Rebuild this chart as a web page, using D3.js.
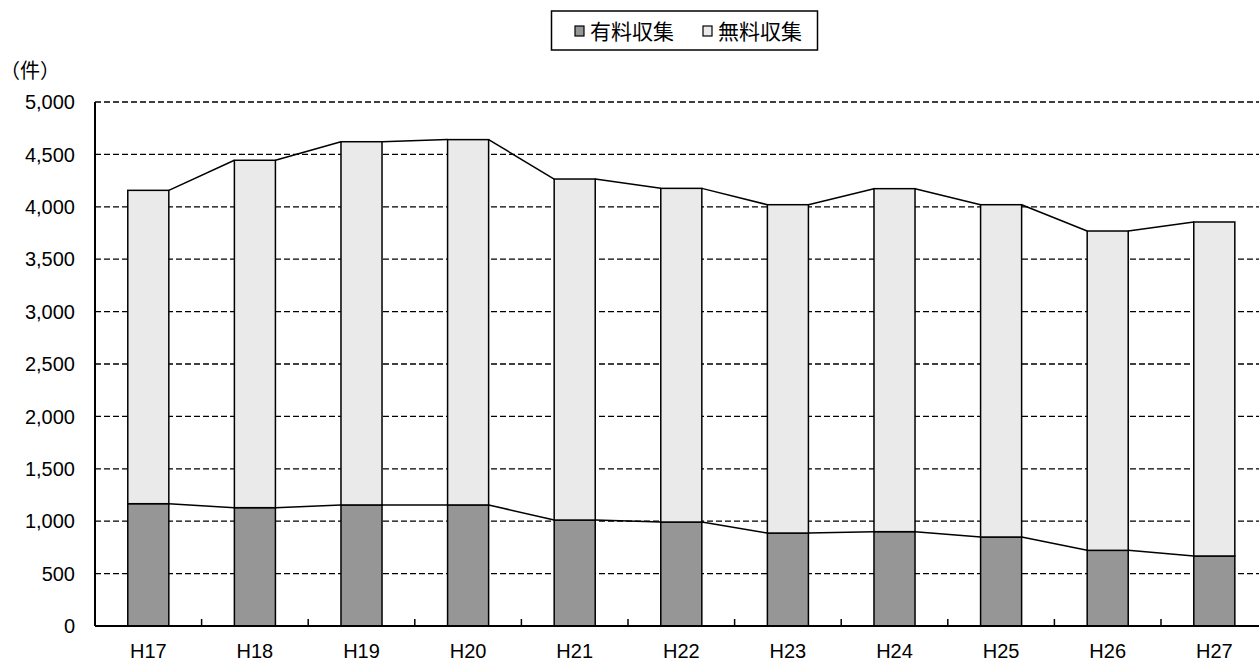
<!DOCTYPE html>
<html>
<head>
<meta charset="utf-8">
<script src="https://cdn.jsdelivr.net/npm/d3@7"></script>
<style>
  body { margin: 0; background: #fff; }
  text { font-family: "Liberation Sans", Arial, "Noto Sans CJK JP", sans-serif; }
  .jp { font-family: "Noto Sans CJK JP", sans-serif; }
</style>
</head>
<body>
<div id="chart"></div>
<script>
// データ
const years = ['H17', 'H18', 'H19', 'H20', 'H21', 'H22', 'H23', 'H24', 'H25', 'H26', 'H27'];
const paid = [1167, 1129, 1155, 1155, 1011, 992, 887, 900, 849, 722, 668];
const totals = [4157, 4444, 4621, 4641, 4265, 4176, 4020, 4173, 4020, 3769, 3855];
const yTicks = [0, 500, 1000, 1500, 2000, 2500, 3000, 3500, 4000, 4500, 5000];
const seriesNames = ['有料収集', '無料収集'];
const colors = ['#969696', '#eaeaea'];

const width = 1259, height = 661;
const plotLeft = 95, plotTop = 102, plotBottom = 626;
const plotRight = plotLeft + 106.6 * years.length;

const svg = d3.select('#chart')
  .append('svg')
  .attr('width', width)
  .attr('height', height);

const x = d3.scaleBand()
  .domain(years)
  .range([plotLeft, plotRight])
  .paddingInner(0.615)
  .paddingOuter(0.3075);

const band = d3.scaleBand().domain(years).range([plotLeft, plotRight]);

const y = d3.scaleLinear()
  .domain([0, 5000])
  .range([plotBottom, plotTop]);

// グリッド線
svg.selectAll('line.grid')
  .data(yTicks.filter(d => d > 0))
  .enter()
  .append('line')
  .attr('class', 'grid')
  .attr('x1', plotLeft)
  .attr('x2', plotRight)
  .attr('y1', d => y(d))
  .attr('y2', d => y(d))
  .attr('stroke', '#000')
  .attr('stroke-width', d => d === 5000 ? 1.6 : 1.3)
  .attr('stroke-dasharray', '6,3');

// Y軸ラベル
svg.selectAll('text.ytick')
  .data(yTicks)
  .enter()
  .append('text')
  .attr('class', 'ytick')
  .attr('x', 75)
  .attr('y', d => y(d))
  .attr('dy', '0.36em')
  .attr('text-anchor', 'end')
  .attr('font-size', '20px')
  .text(d => d3.format(',')(d));

svg.append('text')
  .attr('class', 'jp')
  .attr('x', 0)
  .attr('y', 78)
  .attr('font-size', '20px')
  .text('（件）');

// 棒（積み上げ）
const stack = years.map((yr, i) => ({ yr, paid: paid[i], total: totals[i] }));

svg.selectAll('rect.paid')
  .data(stack)
  .enter()
  .append('rect')
  .attr('x', d => x(d.yr))
  .attr('y', d => y(d.paid))
  .attr('width', x.bandwidth())
  .attr('height', d => y(0) - y(d.paid))
  .attr('fill', colors[0])
  .attr('stroke', '#000')
  .attr('stroke-width', 1.5);

svg.selectAll('rect.free')
  .data(stack)
  .enter()
  .append('rect')
  .attr('x', d => x(d.yr))
  .attr('y', d => y(d.total))
  .attr('width', x.bandwidth())
  .attr('height', d => y(d.paid) - y(d.total))
  .attr('fill', colors[1])
  .attr('stroke', '#000')
  .attr('stroke-width', 1.5);

// 区分線
const pairs = d3.pairs(stack);
['paid', 'total'].forEach(key => {
  svg.selectAll('line.series-' + key)
    .data(pairs)
    .enter()
    .append('line')
    .attr('x1', d => x(d[0].yr) + x.bandwidth())
    .attr('y1', d => y(d[0][key]))
    .attr('x2', d => x(d[1].yr))
    .attr('y2', d => y(d[1][key]))
    .attr('stroke', '#000')
    .attr('stroke-width', 1.5);
});

// 軸
svg.append('line')
  .attr('x1', plotLeft).attr('x2', plotLeft)
  .attr('y1', plotTop).attr('y2', plotBottom)
  .attr('stroke', '#000').attr('stroke-width', 2);

svg.append('line')
  .attr('x1', plotLeft).attr('x2', plotRight)
  .attr('y1', plotBottom).attr('y2', plotBottom)
  .attr('stroke', '#000').attr('stroke-width', 2);

svg.selectAll('line.xtick')
  .data(years.slice(1))
  .enter()
  .append('line')
  .attr('x1', d => band(d))
  .attr('x2', d => band(d))
  .attr('y1', plotBottom)
  .attr('y2', plotBottom - 7)
  .attr('stroke', '#000')
  .attr('stroke-width', 1.5);

svg.selectAll('text.xlabel')
  .data(years)
  .enter()
  .append('text')
  .attr('x', d => x(d) + x.bandwidth() / 2)
  .attr('y', 658)
  .attr('text-anchor', 'middle')
  .attr('font-size', '20px')
  .text(d => d);

// 凡例
svg.append('rect')
  .attr('x', 551.5)
  .attr('y', 11)
  .attr('width', 266)
  .attr('height', 39)
  .attr('fill', '#fff')
  .attr('stroke', '#000')
  .attr('stroke-width', 1.5);

const legendX = [575, 703];
seriesNames.forEach((name, i) => {
  svg.append('rect')
    .attr('x', legendX[i])
    .attr('y', 26)
    .attr('width', 9)
    .attr('height', 10)
    .attr('fill', colors[i])
    .attr('stroke', '#000')
    .attr('stroke-width', 1.2);
  svg.append('text')
    .attr('class', 'jp')
    .attr('x', legendX[i] + 15)
    .attr('y', 39)
    .attr('font-size', '21px')
    .text(name);
});
</script>
</body>
</html>
